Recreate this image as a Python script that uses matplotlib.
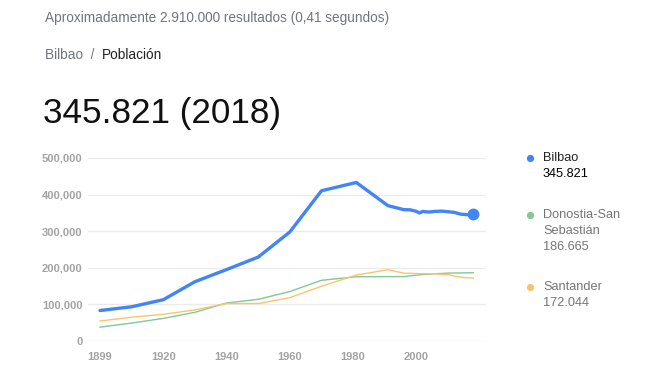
# Google "Bilbao / Población" population card, redrawn with matplotlib

import matplotlib.pyplot as plt
from matplotlib.ticker import FuncFormatter

plt.rcParams['font.family'] = ['Liberation Sans', 'DejaVu Sans']

# ---------------------------------------------------------------
# Data
# ---------------------------------------------------------------
bilbao_years = [1900, 1910, 1920, 1930, 1940, 1950, 1960, 1970, 1981, 1991,
                1996, 1998, 2000, 2001, 2002, 2004, 2006, 2008, 2010, 2012,
                2014, 2016, 2018]
bilbao_pop = [83306, 93536, 112819, 161987, 195186, 229334, 297942, 410490,
              433115, 369839, 358875, 358467, 354271, 349972, 353950, 352317,
              354168, 354860, 353187, 351356, 346574, 345122, 345821]

donostia_years = [1900, 1910, 1920, 1930, 1940, 1950, 1960, 1970, 1981,
                  1996, 2001, 2005, 2010, 2015, 2018]
donostia_pop = [37812, 49008, 61774, 78432, 103979, 113857, 135149, 165829,
                175576, 176019, 181000, 183300, 185500, 186100, 186665]

santander_years = [1900, 1910, 1920, 1930, 1940, 1950, 1960, 1970, 1981,
                   1991, 1996, 2001, 2005, 2008, 2010, 2012, 2015, 2018]
santander_pop = [54694, 65046, 72938, 84977, 102462, 102440, 118435, 149704,
                 180328, 194822, 185410, 184000, 183955, 182302, 181589,
                 177123, 173375, 172044]

x_ticks = [1900, 1920, 1940, 1960, 1980, 2000]
x_tick_labels = ['1899', '1920', '1940', '1960', '1980', '2000']
y_ticks = [0, 100000, 200000, 300000, 400000, 500000]

series = [
    ("Bilbao", bilbao_years, bilbao_pop, '#4285f4'),
    ("Donostia-San\nSebastián", donostia_years, donostia_pop, '#81c995'),
    ("Santander", santander_years, santander_pop, '#fcc46a'),
]

W, H = 650, 391


def px(x, y):
    """pixel position (from top-left) -> figure fraction"""
    return x / W, 1 - y / H


fig = plt.figure(figsize=(W / 100, H / 100), dpi=100)
fig.patch.set_facecolor('white')

# ---------------------------------------------------------------
# Header texts
# ---------------------------------------------------------------
fig.text(*px(45, 18), "Aproximadamente 2.910.000 resultados (0,41 segundos)",
         fontsize=9.8, color='#70757a', va='center', ha='left')
t = fig.text(*px(45, 55), "Bilbao  /  ", fontsize=9.8, color='#70757a',
             va='center', ha='left')
fig.canvas.draw()
bb = t.get_window_extent()
fig.text(bb.x1 / W, 1 - 55 / H, "Población", fontsize=9.8, color='#222222',
         va='center', ha='left')
fig.text(*px(43, 113), "345.821 (2018)", fontsize=25.3, color='#111111',
         va='center', ha='left')

# ---------------------------------------------------------------
# Chart
# ---------------------------------------------------------------
left, right, top, bottom = 88, 486, 158, 341
ax = fig.add_axes([left / W, (H - bottom) / H, (right - left) / W, (bottom - top) / H])

for name, yrs, vals, col in series:
    if name == "Bilbao":
        continue
    ax.plot(yrs, vals, color=col, lw=1.0, zorder=2, solid_joinstyle='round')

ax.plot(bilbao_years, bilbao_pop, color='#4285f4', lw=2.4, zorder=3,
        solid_joinstyle='round', solid_capstyle='round')
ax.plot(bilbao_years[-1], bilbao_pop[-1], 'o', color='#4285f4', ms=7.5, zorder=4)

ax.set_xlim(1896.2, 2022)
ax.set_ylim(0, 500000)
ax.set_xticks(x_ticks)
ax.set_xticklabels(x_tick_labels)
ax.set_yticks(y_ticks)
ax.yaxis.set_major_formatter(FuncFormatter(lambda v, p: f"{int(v):,}"))
ax.grid(axis='y', color='#ebebeb', lw=1.0, zorder=0)
ax.set_axisbelow(True)
for s in ax.spines.values():
    s.set_visible(False)
ax.tick_params(length=0, labelsize=8, colors='#9e9e9e')
ax.tick_params(axis='y', pad=4)
ax.tick_params(axis='x', pad=8)
for lab in ax.get_xticklabels() + ax.get_yticklabels():
    lab.set_fontweight('bold')
    lab.set_color('#a3a3a3')

# ---------------------------------------------------------------
# Legend on the right
# ---------------------------------------------------------------
legend_y = [158, 215, 287]
for (name, yrs, vals, col), ly in zip(series, legend_y):
    fig.lines.append(plt.Line2D([530 / W], [1 - ly / H], marker='o', ms=4.2,
                                color=col, transform=fig.transFigure))
    name_col = '#222222' if name == "Bilbao" else '#757575'
    val_col = '#000000' if name == "Bilbao" else '#757575'
    val = f"{vals[-1]:,}".replace(",", ".")
    lines = name.split("\n") + [val]
    for i, line in enumerate(lines):
        c = val_col if i == len(lines) - 1 else name_col
        fig.text(*px(543, ly + 16 * i), line, fontsize=9.2, color=c,
                 va='center', ha='left')

fig.savefig("out.png", dpi=100, facecolor='white')
